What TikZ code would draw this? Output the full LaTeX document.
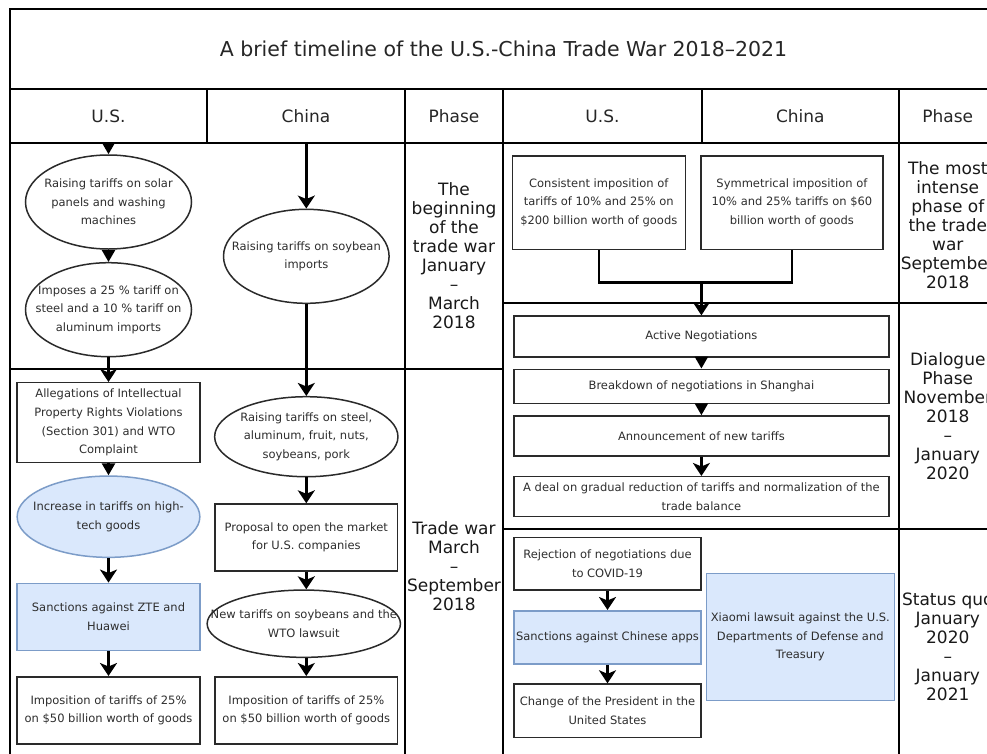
\documentclass[tikz,border=0pt]{standalone}
\usepackage{fontspec}
\setmainfont{DejaVu Sans}
\usetikzlibrary{shapes.geometric,arrows.meta}
\definecolor{txt}{HTML}{2E2E2E}
\definecolor{bord}{HTML}{2A2A2A}
\definecolor{bfill}{HTML}{DAE8FC}
\definecolor{bborder}{HTML}{7C9CC8}
\begin{document}
\begin{tikzpicture}[x=1pt,y=-1pt,
  tbl/.style={line width=2pt, draw=black},
  boxt/.style={font=\fontsize{11.5}{18.7}\selectfont, text=txt, align=center},
  rbox/.style={draw=bord, line width=1.5pt, rectangle, inner sep=0pt, boxt},
  bbox/.style={rbox, fill=bfill, draw=bborder},
  ellnode/.style={draw=bord, line width=1.5pt, ellipse, inner sep=0pt},
  bell/.style={ellnode, fill=bfill, draw=bborder},
  phs/.style={font=\fontsize{17}{19}\selectfont, align=center, text=black!90},
  hdr/.style={font=\fontsize{17}{20}\selectfont, text=black!85},
  ttl/.style={font=\fontsize{20.5}{24}\selectfont, text=black!85},
  arrbig/.style={draw=black, line width=2.5pt, -{Stealth[length=13pt,width=17pt,inset=3.5pt]}},
  arrsm/.style={draw=black, line width=2.5pt, -{Triangle[length=12pt,width=13pt]}},
  brk/.style={draw=black, line width=2.5pt}
]
\useasboundingbox (0,0) rectangle (987,753);
\fill[white] (0,0) rectangle (987,753);
\clip (0,0) rectangle (987,753);

% ---------- table grid ----------
\draw[tbl] (10,9) rectangle (997,763);
\draw[tbl] (10,89) -- (997,89);
\draw[tbl] (10,142.7) -- (997,142.7);
\draw[tbl] (207,89) -- (207,142.7);
\draw[tbl] (702,89) -- (702,142.7);
\draw[tbl] (405,89) -- (405,763);
\draw[tbl] (503,89) -- (503,763);
\draw[tbl] (898.7,89) -- (898.7,763);
\draw[tbl] (10,369.3) -- (503,369.3);
\draw[tbl] (503,302.7) -- (997,302.7);
\draw[tbl] (503,529.3) -- (997,529.3);

% ---------- title and headers ----------
\node[ttl] (title) at (503.5,49) {A brief timeline of the U.S.-China Trade War 2018–2021};
\node[hdr] (hus1) at (108.5,116) {U.S.};
\node[hdr] (hcn1) at (306,116) {China};
\node[hdr] (hph1) at (454,116) {Phase};
\node[hdr] (hus2) at (602.5,116) {U.S.};
\node[hdr] (hcn2) at (800.3,116) {China};
\node[hdr] (hph2) at (947.8,116) {Phase};

% ---------- phase texts ----------
\node[phs] (p1) at (454,256) {The\\beginning\\of the\\trade war\\January\\–\\March\\2018};
\node[phs] (p2) at (454,566) {Trade war\\March\\–\\September\\2018};
\node[phs] (p3) at (947.8,225) {The most\\intense\\phase of\\the trade\\war\\September\\2018};
\node[phs] (p4) at (947.8,416.5) {Dialogue\\Phase\\November\\2018\\–\\January\\2020};
\node[phs] (p5) at (947.8,646.7) {Status quo\\January\\2020\\–\\January\\2021};

% ---------- left U.S. column ----------
\coordinate (sUS) at (108.5,142.7);
\node[ellnode, minimum width=166pt, minimum height=94pt,
  label={[boxt]center:{Raising tariffs on solar\\panels and washing\\machines}}] (e1) at (108.5,202) {};
\node[ellnode, minimum width=166pt, minimum height=94pt,
  label={[boxt]center:{Imposes a 25 \% tariff on\\steel and a 10 \% tariff on\\aluminum imports}}] (e2) at (108.5,309.7) {};
\node[rbox, minimum width=182.7pt, minimum height=80pt] (alleg) at (108.5,422.7)
  {Allegations of Intellectual\\Property Rights Violations\\(Section 301) and WTO\\Complaint};
\node[bell, minimum width=182.7pt, minimum height=81.3pt,
  label={[boxt]center:{Increase in tariffs on high-\\tech goods}}] (incr) at (108.5,516.7) {};
\node[bbox, minimum width=182.7pt, minimum height=67.4pt] (zte) at (108.5,617)
  {Sanctions against ZTE and\\Huawei};
\node[rbox, minimum width=182.7pt, minimum height=67.3pt] (imp1) at (108.5,710.4)
  {Imposition of tariffs of 25\%\\on \$50 billion worth of goods};

% ---------- left China column ----------
\coordinate (sCN) at (306.3,142.7);
\node[ellnode, minimum width=165.6pt, minimum height=94pt,
  label={[boxt]center:{Raising tariffs on soybean\\imports}}] (soy) at (306.3,256.3) {};
\node[ellnode, minimum width=183.3pt, minimum height=80pt,
  label={[boxt]center:{Raising tariffs on steel,\\aluminum, fruit, nuts,\\soybeans, pork}}] (steel) at (306.3,436.7) {};
\node[rbox, minimum width=182.3pt, minimum height=66.7pt] (prop) at (306.3,537.4)
  {Proposal to open the market\\for U.S. companies};
\node[ellnode, minimum width=193.3pt, minimum height=67.3pt,
  label={[boxt]center:{New tariffs on soybeans and the\\WTO lawsuit}}] (newt) at (303.8,623.7) {};
\node[rbox, minimum width=182.3pt, minimum height=67.3pt] (imp2) at (306.3,710.4)
  {Imposition of tariffs of 25\%\\on \$50 billion worth of goods};

% ---------- right part ----------
\node[rbox, minimum width=173pt, minimum height=93.3pt] (cons) at (598.8,202.7)
  {Consistent imposition of\\tariffs of 10\% and 25\% on\\\$200 billion worth of goods};
\node[rbox, minimum width=181.7pt, minimum height=93.3pt] (sym) at (791.9,202.7)
  {Symmetrical imposition of\\10\% and 25\% tariffs on \$60\\billion worth of goods};
\coordinate (join) at (701.4,282.7);
\node[rbox, minimum width=374.7pt, minimum height=40.7pt] (act) at (701.4,336.4) {Active Negotiations};
\node[rbox, minimum width=374.7pt, minimum height=34pt] (brk) at (701.4,386.3) {Breakdown of negotiations in Shanghai};
\node[rbox, minimum width=374.7pt, minimum height=40pt] (ann) at (701.4,436) {Announcement of new tariffs};
\node[rbox, minimum width=374.7pt, minimum height=40pt] (deal) at (701.4,496.7)
  {A deal on gradual reduction of tariffs and normalization of the\\trade balance};
\node[rbox, minimum width=187pt, minimum height=52.7pt] (rej) at (607.5,563.7)
  {Rejection of negotiations due\\to COVID-19};
\node[bbox, minimum width=187pt, minimum height=53.3pt] (apps) at (607.5,637.4)
  {Sanctions against Chinese apps};
\node[rbox, minimum width=187pt, minimum height=53.3pt] (pres) at (607.5,710.7)
  {Change of the President in the\\United States};
\node[bbox, minimum width=188pt, minimum height=127.4pt] (xiaomi) at (800.3,637)
  {Xiaomi lawsuit against the U.S.\\Departments of Defense and\\Treasury};

% ---------- connectors ----------
\draw[arrsm] (sUS) -- (e1);
\draw[arrsm] (e1) -- (e2);
\draw[arrbig] (e2) -- (alleg);
\draw[arrsm] (alleg) -- (incr);
\draw[arrbig] (incr) -- (zte);
\draw[arrbig] (zte) -- (imp1);

\draw[arrbig] (sCN) -- (soy);
\draw[arrbig] (soy) -- (steel);
\draw[arrbig] (steel) -- (prop);
\draw[arrbig] (prop) -- (prop.south |- newt.north);
\draw[arrbig] (newt.south -| imp2.north) -- (imp2);

\draw[brk] (cons.south) |- (join) -| (sym.south);
\draw[arrbig] (join) -- (act);
\draw[arrsm] (act) -- (brk);
\draw[arrsm] (brk) -- (ann);
\draw[arrbig] (ann) -- (deal);
\draw[arrbig] (rej) -- (apps);
\draw[arrbig] (apps) -- (pres);
\end{tikzpicture}
\end{document}
